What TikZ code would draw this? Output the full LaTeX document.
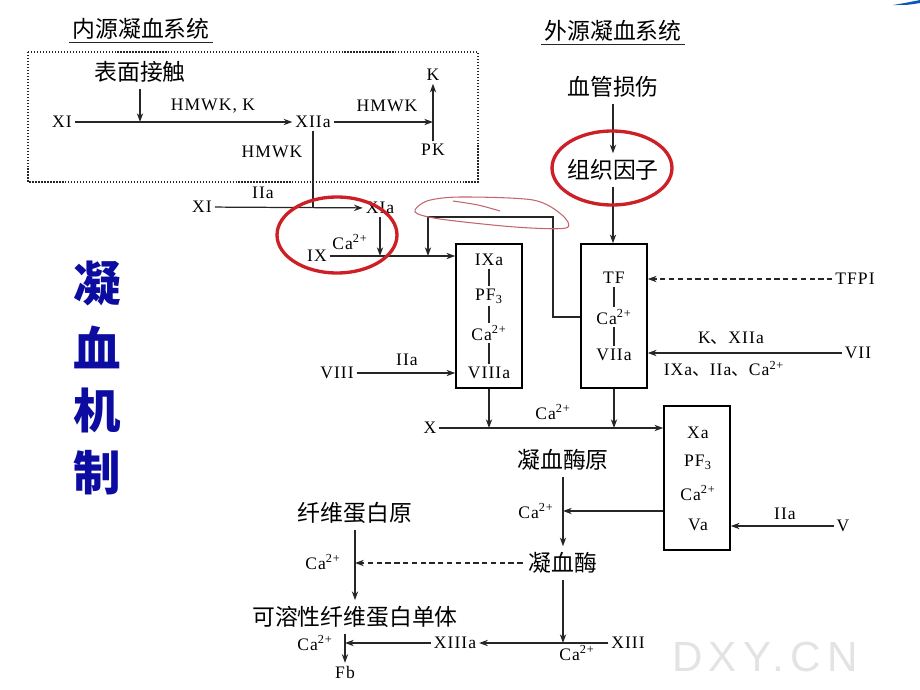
\documentclass[tikz,border=0pt]{standalone}
\usepackage{fontspec}
\setmainfont[LetterSpace=6]{Liberation Serif}
\newfontfamily\cjk{Noto Sans CJK SC}
\newfontfamily\wmfont[LetterSpace=15]{Liberation Sans}
\usetikzlibrary{arrows.meta}
\definecolor{markred}{RGB}{205,32,38}
\definecolor{scribble}{RGB}{195,100,110}
\definecolor{titleblue}{RGB}{12,12,160}

\begin{document}
\begin{tikzpicture}[x=0.02cm, y=-0.02cm, >={Stealth[length=5pt,width=3.6pt]},
    line/.style={line width=0.7pt, black!85},
    arr/.style={line, ->},
    dashline/.style={dash pattern=on 3pt off 2pt},
    lab/.style={font=\fontsize{10}{12}\selectfont, inner sep=1.5pt},
    zh/.style={font=\cjk\fontsize{13}{15}\selectfont},
    zhtitle/.style={font=\cjk\fontsize{13}{15}\selectfont, inner sep=1.5pt},
    complexbox/.style={draw, line width=0.9pt, minimum width=1.32cm, minimum height=2.88cm},
    markring/.style={draw=markred, line width=1.9pt},
    bigzh/.style={font=\cjk\bfseries\fontsize{27}{30}\selectfont, text=titleblue}]
        \useasboundingbox (0,0) rectangle (920,690);

        % Intrinsic pathway
        \node[zhtitle] (intr) at (141,29) {内源凝血系统};
        \draw[line] (intr.south west) -- (intr.south east);
        \draw[line, densely dotted] (28,52) rectangle (478,182);
        \node[zh] (surf) at (140,72) {表面接触};
        \node[lab] (xi1) at (62,122) {XI};
        \node[lab] (xiia) at (313,122) {XIIa};
        \node[lab] (k) at (433,75) {K};
        \node[lab] (pk) at (433,150) {PK};
        \node[lab] (hmwka) at (213,106) {HMWK, K};
        \node[lab] (hmwkb) at (387,106) {HMWK};
        \node[lab] (hmwkc) at (272,152) {HMWK};
        \draw[arr] (xi1) -- (xiia);
        \draw[arr] (surf) -- (surf.south |- xi1);
        \draw[arr] (xiia) -- (pk |- xiia);
        \draw[arr] (pk) -- (k);

        % XI and IX activation
        \node[lab] (xi2) at (202,207) {XI};
        \node[lab] (xia) at (380,208) {XIa};
        \node[lab] (iia1) at (263,193) {IIa};
        \node[lab] (ix) at (317,256) {IX};
        \node[lab] (ca1) at (350,242) {Ca\textsuperscript{2+}};
        \draw[arr] (xi2) -- (xia);
        \draw[line] (xiia) -- (xiia |- xi2);
        \draw[arr] (xia) -- (xia |- ix);

        % IXa complex
        \node[complexbox] (ixbox) at (489,316) {};
        \node[lab] (ixa) at (489,260) {IXa};
        \node[lab] (pfa) at (489,296) {PF\textsubscript{3}};
        \node[lab] (caa) at (489,333) {Ca\textsuperscript{2+}};
        \node[lab] (viiia) at (489,373) {VIIIa};
        \draw[line] (ixa) -- (pfa) (pfa) -- (caa) (caa) -- (viiia);
        \draw[arr] (ix) -- (ixbox.west |- ix);
        \node[lab] (viii) at (337,373) {VIII};
        \node[lab] (iia2) at (407,360) {IIa};
        \draw[arr] (viii) -- (ixbox.west |- viii);

        % Extrinsic pathway
        \node[zhtitle] (extr) at (613,31) {外源凝血系统};
        \draw[line] (extr.south west) -- (extr.south east);
        \node[zh] (vasc) at (613,87) {血管损伤};
        \node[zh] (tissue) at (613,170) {组织因子};
        \node[complexbox] (tfbox) at (614,316) {};
        \node[lab] (tf) at (614,278) {TF};
        \node[lab] (catf) at (614,317) {Ca\textsuperscript{2+}};
        \node[lab] (viia) at (614,355) {VIIa};
        \draw[line] (tf) -- (catf) (catf) -- (viia);
        \draw[arr] (vasc) -- (tissue);
        \draw[arr] (tissue) -- (tissue |- tfbox.north);

        % TF-VIIa acts on IX
        \coordinate (loopr) at (553,217);
        \coordinate (loopl) at (428,217);
        \draw[arr] (tfbox.west |- catf) -- (loopr |- catf) -- (loopr) -- (loopl) -- (loopl |- ix);

        % TFPI and VII
        \node[lab] (tfpi) at (855,279) {TFPI};
        \draw[arr, dashline] (tfpi) -- (tfbox.east |- tfpi);
        \node[lab] (vii) at (858,353) {VII};
        \node[lab] (kxii) at (731,338) {K{\cjk 、}XIIa};
        \node[lab] (ixiia) at (724,369) {IXa{\cjk 、}IIa{\cjk 、}Ca\textsuperscript{2+}};
        \draw[arr] (vii) -- (tfbox.east |- vii);

        % X activation
        \node[lab] (x) at (430,428) {X};
        \node[lab] (ca2) at (553,412) {Ca\textsuperscript{2+}};
        \node[complexbox] (xabox) at (697,478) {};
        \node[lab] (xa) at (698,433) {Xa};
        \node[lab] (pfb) at (698,462) {PF\textsubscript{3}};
        \node[lab] (cab) at (698,493) {Ca\textsuperscript{2+}};
        \node[lab] (va) at (698,525) {Va};
        \draw[arr] (x) -- (xabox.west |- x);
        \draw[arr] (ixbox) -- (ixbox.south |- x);
        \draw[arr] (tfbox) -- (tfbox.south |- x);
        \node[lab] (v) at (843,526) {V};
        \node[lab] (iia3) at (785,514) {IIa};
        \draw[arr] (v) -- (xabox.east |- v);

        % Prothrombin to thrombin
        \node[zh] (proth) at (563,460) {凝血酶原};
        \node[zh] (thromb) at (563,563) {凝血酶};
        \node[lab] (cac) at (536,511) {Ca\textsuperscript{2+}};
        \draw[arr] (proth) -- (thromb);
        \draw[arr] (xabox.west |- cac) -- (proth |- cac);

        % Fibrin formation
        \node[zh] (fbg) at (355,513) {纤维蛋白原};
        \node[zh] (sfm) at (355,617) {可溶性纤维蛋白单体};
        \node[lab] (fb) at (345,672) {Fb};
        \node[lab] (cad) at (323,562) {Ca\textsuperscript{2+}};
        \node[lab] (xiii) at (628,643) {XIII};
        \node[lab] (xiiia) at (455,643) {XIIIa};
        \node[lab] (cae) at (577,653) {Ca\textsuperscript{2+}};
        \node[lab] (caf) at (315,643) {Ca\textsuperscript{2+}};
        \draw[arr] (fbg) -- (fbg |- sfm.north);
        \draw[arr, dashline] (thromb) -- (fbg |- thromb);
        \draw[arr] (thromb) -- (thromb |- xiii);
        \draw[arr] (xiii) -- (xiiia);
        \draw[arr] (xiiia) -- (fb |- xiiia);
        \draw[arr] (sfm.south -| fb) -- (fb);

        % Red marks
        \draw[markring] (337,235) ellipse [x radius=1.2cm, y radius=0.76cm];
        \draw[markring] (612,168) ellipse [x radius=1.2cm, y radius=0.74cm];
        \draw[scribble, line width=0.6pt] plot[smooth cycle] coordinates {(415,212) (427,201) (460,197) (533,200) (562,215) (566,228) (515,227) (440,219)};
        \draw[scribble, line width=0.6pt] plot[smooth] coordinates {(453,201) (478,205) (500,211)};

        % Side title
        \node[bigzh] (tz1) at (97,283) {凝};
        \node[bigzh] (tz2) at (97,347) {血};
        \node[bigzh] (tz3) at (97,410) {机};
        \node[bigzh] (tz4) at (97,473) {制};

        % Watermark and corner
        \node[font=\wmfont\fontsize{24}{28}\selectfont, text=black!11] (wm) at (765,657) {DXY.CN};
        \fill[titleblue!70!cyan] (893,5) .. controls (905,3) .. (920,0) -- (920,3) .. controls (908,5) .. (893,5) -- cycle;
    \end{tikzpicture}
\end{document}
